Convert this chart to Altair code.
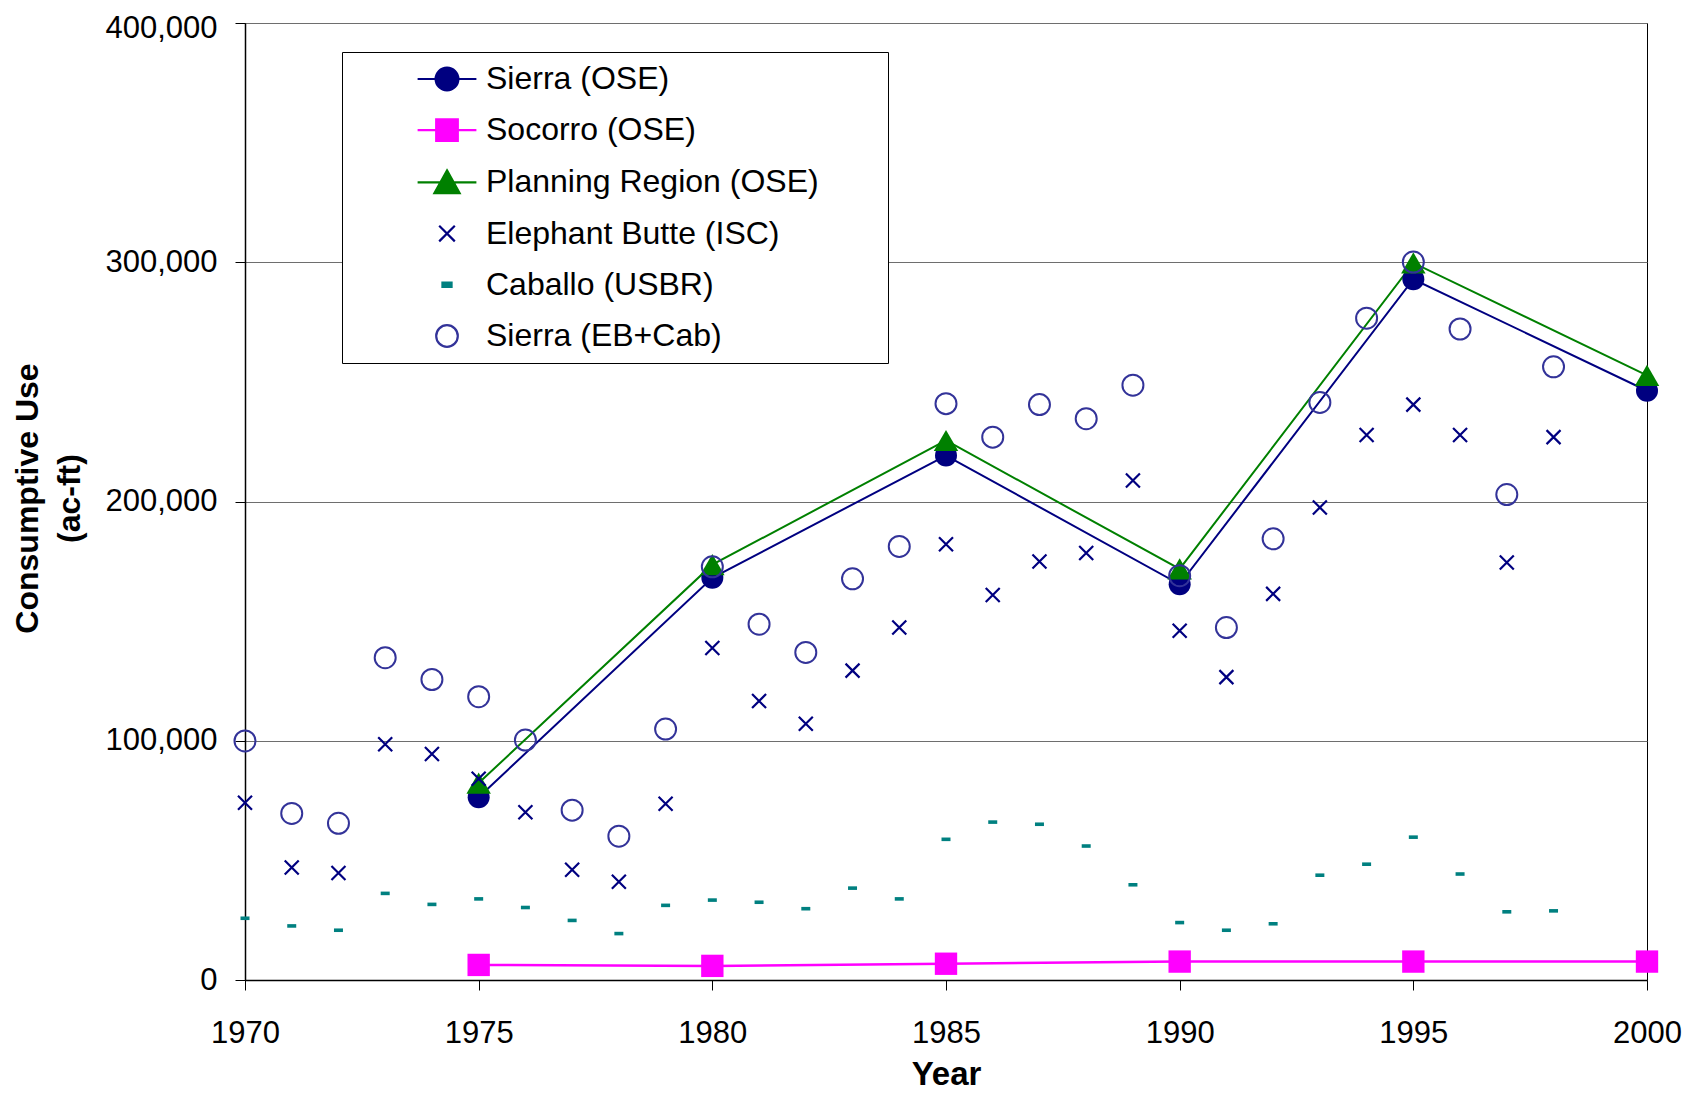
import altair as alt
import pandas as pd

# ---------------- data ----------------
years_annual = list(range(1970, 1999))
elephant_butte_isc = [74100, 47000, 44700, 98500, 94500, 84100, 70100, 46100, 41100, 73700,
                      138800, 116600, 107100, 129300, 147300, 182100, 160900, 174900, 178500, 208800,
                      146000, 126600, 161400, 197500, 227800, 240500, 227800, 174500, 226900]
caballo_usbr = [25800, 22600, 20800, 36200, 31600, 33900, 30300, 24900, 19400, 31200,
                33400, 32500, 29800, 38400, 33900, 58800, 66000, 65100, 56000, 39800,
                24000, 20800, 23500, 43800, 48400, 59700, 44300, 28500, 28900]
sierra_eb_cab = [99900, 69600, 65500, 134700, 125600, 118400, 100300, 71000, 60100, 104900,
                 172700, 148700, 136900, 167700, 181200, 240900, 226900, 240500, 234600, 248600,
                 169000, 147300, 184400, 241400, 276600, 300100, 272100, 202900, 256300]

years_ose = [1975, 1980, 1985, 1990, 1995, 2000]
sierra_ose = [76400, 168100, 219200, 165400, 292900, 246300]
socorro_ose = [6300, 5900, 6800, 7700, 7700, 7700]
planning_ose = [82300, 173600, 225500, 171800, 299700, 252700]

series_names = ["Sierra (OSE)", "Socorro (OSE)", "Planning Region (OSE)",
                "Elephant Butte (ISC)", "Caballo (USBR)", "Sierra (EB+Cab)"]
x_ticks = [1970, 1975, 1980, 1985, 1990, 1995, 2000]
y_ticks = [0, 100000, 200000, 300000, 400000]

# ---------------- styles ----------------
FONT = "Liberation Sans"
NAVY = "#000080"
MAGENTA = "#FF00FF"
GREEN = "#008000"
TEAL = "#008080"
BLUE = "#333399"

X_PATH = "M-1,-1L1,1M-1,1L1,-1"
DASH_PATH = "M-1,-0.4H1V0.4H-1Z"

LEG_PATHS = [
    "M-2.45,0H2.45M0.95,0A0.95,0.95 0 1,1 -0.95,0A0.95,0.95 0 1,1 0.95,0Z",
    "M-2.45,0H2.45M-0.9,-0.9H0.9V0.9H-0.9Z",
    "M-2.45,0H2.45M0,-1L1.05,0.9H-1.05Z",
    "M-0.65,-0.65L0.65,0.65M-0.65,0.65L0.65,-0.65",
    "M-0.38,-0.18H0.38V0.18H-0.38Z",
    "M0.9,0A0.9,0.9 0 1,1 -0.9,0A0.9,0.9 0 1,1 0.9,0Z",
]
LEG_FILLS = [NAVY, MAGENTA, GREEN, "transparent", TEAL, "transparent"]
LEG_STROKES = [NAVY, MAGENTA, GREEN, NAVY, TEAL, BLUE]

# ---------------- long table ----------------
rows = []
for y, v in zip(years_ose, sierra_ose):
    rows.append({"year": y, "value": v, "series": series_names[0]})
for y, v in zip(years_ose, socorro_ose):
    rows.append({"year": y, "value": v, "series": series_names[1]})
for y, v in zip(years_ose, planning_ose):
    rows.append({"year": y, "value": v, "series": series_names[2]})
for y, v in zip(years_annual, elephant_butte_isc):
    rows.append({"year": y, "value": v, "series": series_names[3]})
for y, v in zip(years_annual, caballo_usbr):
    rows.append({"year": y, "value": v, "series": series_names[4]})
for y, v in zip(years_annual, sierra_eb_cab):
    rows.append({"year": y, "value": v, "series": series_names[5]})
df = pd.DataFrame(rows)

x_enc = alt.X(
    "year:Q",
    scale=alt.Scale(domain=[1970, 2000], nice=False, zero=False),
    axis=alt.Axis(values=x_ticks, format="d", title="Year", grid=False,
                  tickSize=10, labelPadding=52, labelBaseline="alphabetic",
                  labelFontSize=31, labelFlush=False,
                  titleFontSize=33, titleFontWeight="bold",
                  titleBaseline="alphabetic", titleY=104),
)
y_enc = alt.Y(
    "value:Q",
    scale=alt.Scale(domain=[0, 400000], nice=False),
    axis=alt.Axis(values=y_ticks, format=",d", title=["Consumptive Use", "(ac-ft)"],
                  grid=True, tickSize=10, labelPadding=18, labelFontSize=31,
                  labelBaseline="middle", labelFlush=False,
                  labelOffset={"condition": {"test": "datum.value === 400000", "value": 5},
                               "value": 0},
                  titleFontSize=32, titleFontWeight="bold", titleLineHeight=42,
                  titleX=-218, titleY=475, titleBaseline="middle", titleAlign="center",
                  titleAngle=270),
)

base = alt.Chart(df).encode(x=x_enc, y=y_enc)


def sel(name):
    return alt.datum.series == name


line_sierra = base.transform_filter(sel(series_names[0])).mark_line(color=NAVY, strokeWidth=2)
line_socorro = base.transform_filter(sel(series_names[1])).mark_line(color=MAGENTA, strokeWidth=2.5)
line_planning = base.transform_filter(sel(series_names[2])).mark_line(color=GREEN, strokeWidth=2)

pts_sierra = base.transform_filter(sel(series_names[0])).mark_point(
    shape="circle", filled=True, color=NAVY, size=484, opacity=1, strokeWidth=0)
pts_socorro = base.transform_filter(sel(series_names[1])).mark_point(
    shape="square", filled=True, color=MAGENTA, size=500, opacity=1, strokeWidth=0)
pts_planning = base.transform_filter(sel(series_names[2])).mark_point(
    shape="triangle-up", filled=True, color=GREEN, size=600, opacity=1, strokeWidth=0)
pts_eb = base.transform_filter(sel(series_names[3])).mark_point(
    shape=X_PATH, filled=False, color=NAVY, size=196, opacity=1, strokeWidth=2.2)
pts_cab = base.transform_filter(sel(series_names[4])).mark_point(
    shape=DASH_PATH, filled=True, color=TEAL, size=81, opacity=1, strokeWidth=0)
pts_ebcab = base.transform_filter(sel(series_names[5])).mark_point(
    shape="circle", filled=False, color=BLUE, size=441, opacity=1, strokeWidth=2)

leg = dict(orient="none", legendX=97, legendY=29,
           title="\u00a0", titleOrient="right", titlePadding=58, titleFontSize=11,
           labelFont=FONT, labelFontSize=32, labelColor="black", labelLimit=600,
           labelOffset=23, symbolSize=576, symbolStrokeWidth=2.2, symbolOffset=78,
           padding=11, rowPadding=19.2, fillColor="white", strokeColor="black",
           symbolOpacity=1)

legend_layer = alt.Chart(df).transform_filter("false").mark_point(
    filled=True, opacity=1, strokeWidth=2.2
).encode(
    shape=alt.Shape("series:N", scale=alt.Scale(domain=series_names, range=LEG_PATHS),
                    legend=alt.Legend(**leg)),
    fill=alt.Fill("series:N", scale=alt.Scale(domain=series_names, range=LEG_FILLS),
                  legend=alt.Legend(**leg)),
    stroke=alt.Stroke("series:N", scale=alt.Scale(domain=series_names, range=LEG_STROKES),
                      legend=alt.Legend(**leg)),
)

chart = alt.layer(
    line_sierra, line_socorro, line_planning,
    pts_sierra, pts_socorro, pts_planning,
    pts_eb, pts_cab, pts_ebcab,
    legend_layer,
).properties(
    width=1402, height=957,
    autosize=alt.AutoSizeParams(type="none"),
    padding={"left": 237, "top": 15, "right": 40, "bottom": 111},
    background="white",
).configure_view(
    stroke="black", strokeWidth=1
).configure_axis(
    labelFont=FONT, titleFont=FONT, labelColor="black", titleColor="black",
    domainColor="black", domainWidth=1.5, tickColor="black", tickWidth=1,
    gridColor="#6e6e6e", gridWidth=1,
)

chart.save("out.html", embed_options={"renderer": "svg", "actions": False})
